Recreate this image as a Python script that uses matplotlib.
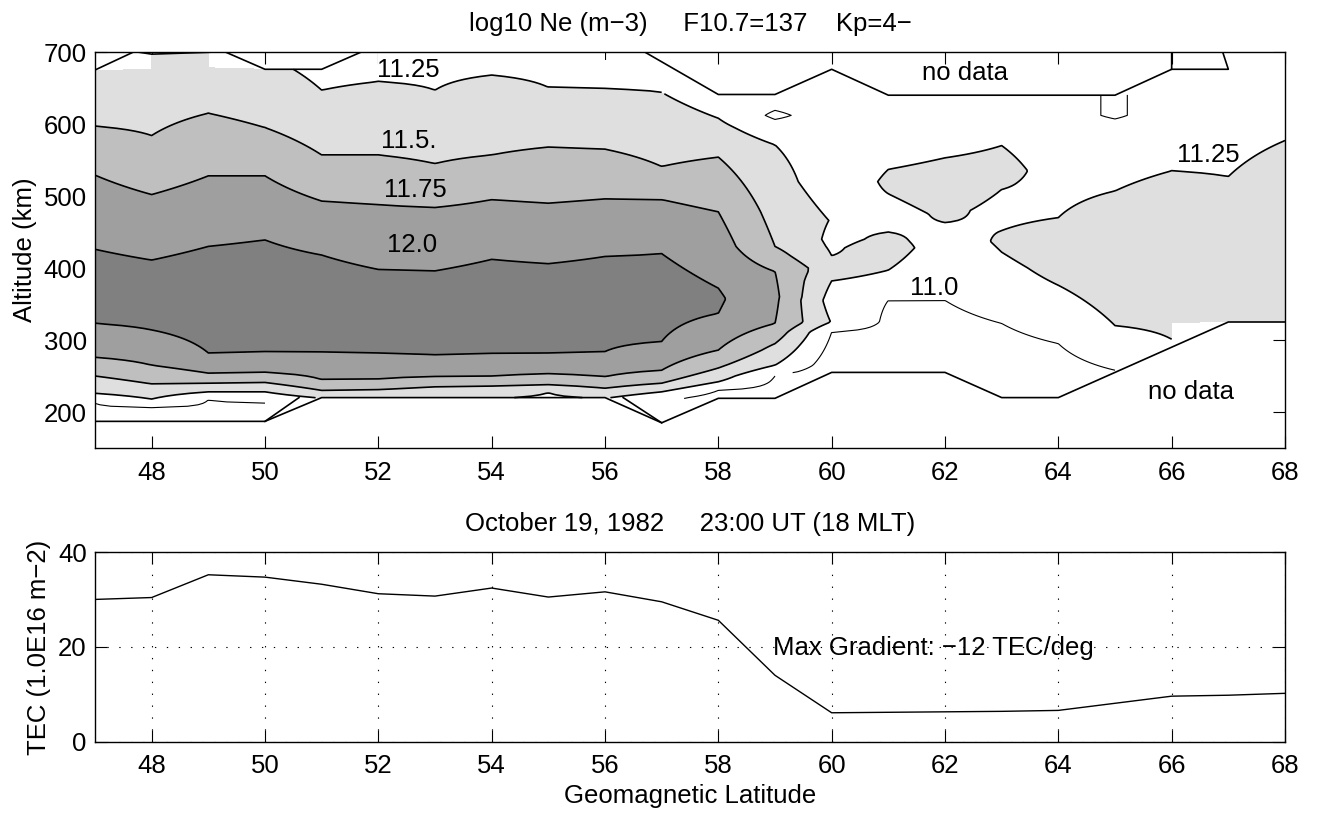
import numpy as np
import matplotlib
matplotlib.use("Agg")
import matplotlib.pyplot as plt

plt.rcParams['font.family'] = ['Liberation Sans', 'DejaVu Sans']
FS = 18.5

# ---------------- data: electron density profiles (log10 Ne) ----------------
lats = list(range(47, 69))
# valid data range per latitude (km); outside = no data
bottom_km = [187, 187, 187, 187, 220, 220, 220, 220, 220, 220, 185,
             219, 219, 255, 255, 255, 220, 220, 255, 290, 325, 325]
top_km = [675, 697, 700, 676, 676, 700, 700, 700, 700, 700, 686,
          641, 641, 676, 641, 641, 641, 641, 641, 676, 700, 700]

# (altitude km, log10 Ne) knots, one list per latitude
ne_47 = [(187, 10.90), (212, 11.00), (226, 11.25), (250, 11.50), (276, 11.75), (323, 12.00),
         (375, 12.12), (426, 12.00), (529, 11.75), (597, 11.50), (675, 11.32)]
ne_48 = [(187, 10.92), (206, 11.00), (218, 11.25), (239, 11.50), (265, 11.75), (314, 12.00),
         (365, 12.15), (411, 12.00), (502, 11.75), (584, 11.50), (697, 11.30)]
ne_49 = [(187, 10.92), (217, 11.00), (228, 11.25), (240, 11.50), (254, 11.75), (282, 12.00),
         (355, 12.18), (430, 12.00), (528, 11.75), (615, 11.50), (700, 11.32)]
ne_50 = [(187, 10.92), (213, 11.00), (228, 11.25), (241, 11.50), (255, 11.75), (284, 12.00),
         (360, 12.18), (439, 12.00), (528, 11.75), (595, 11.50), (676, 11.30)]
ne_51 = [(220, 11.27), (230, 11.50), (245, 11.75), (283, 12.00), (350, 12.15), (418, 12.00),
         (493, 11.75), (557, 11.50), (647, 11.25), (676, 11.20)]
ne_52 = [(220, 11.27), (231, 11.50), (246, 11.75), (282, 12.00), (340, 12.15), (398, 12.00),
         (488, 11.75), (557, 11.50), (659, 11.25), (700, 11.20)]
ne_53 = [(220, 11.26), (235, 11.50), (249, 11.75), (279, 12.00), (340, 12.15), (396, 12.00),
         (484, 11.75), (545, 11.50), (647, 11.25), (700, 11.20)]
ne_54 = [(220, 11.27), (236, 11.50), (250, 11.75), (281, 12.00), (345, 12.16), (412, 12.00),
         (495, 11.75), (557, 11.50), (668, 11.25), (700, 11.22)]
ne_55 = [(220, 11.22), (227, 11.25), (238, 11.50), (253, 11.75), (282, 12.00), (345, 12.16),
         (406, 12.00), (490, 11.75), (568, 11.50), (651, 11.25), (700, 11.20)]
ne_56 = [(220, 11.27), (233, 11.50), (249, 11.75), (284, 12.00), (350, 12.16), (416, 12.00),
         (496, 11.75), (565, 11.50), (649, 11.25), (700, 11.20)]
ne_57 = [(185, 11.05), (219, 11.06), (228, 11.25), (240, 11.50), (258, 11.75), (298, 12.00),
         (360, 12.12), (420, 12.00), (495, 11.75), (541, 11.50), (644, 11.25), (686, 11.20)]
ne_58 = [(219, 10.90), (230, 11.00), (242, 11.25), (261, 11.50), (286, 11.75), (337, 12.00),
         (357, 12.03), (372, 12.00), (478, 11.75), (554, 11.50), (608, 11.25), (641, 11.15)]
ne_59 = [(219, 10.90), (250, 11.00), (265, 11.25), (295, 11.50), (323, 11.75), (360, 11.80),
         (395, 11.75), (430, 11.50), (571, 11.25), (595, 11.10), (612, 10.95), (630, 11.08),
         (641, 11.10)]
ne_60 = [(255, 10.85), (311, 11.00), (325, 11.24), (355, 11.15), (382, 11.25), (400, 11.35),
         (417, 11.25), (440, 11.20), (466, 11.24), (520, 11.12), (600, 11.12), (676, 11.15)]
ne_61 = [(255, 10.85), (355, 11.00), (380, 11.18), (397, 11.25), (428, 11.33), (450, 11.25),
         (475, 11.18), (503, 11.25), (520, 11.28), (537, 11.25), (580, 11.15), (641, 11.12)]
ne_62 = [(255, 10.85), (355, 11.00), (400, 11.12), (437, 11.17), (463, 11.25), (505, 11.35),
         (553, 11.25), (600, 11.15), (641, 11.12)]
ne_63 = [(220, 10.80), (323, 11.00), (400, 11.18), (422, 11.25), (437, 11.27), (452, 11.25),
         (480, 11.20), (509, 11.25), (535, 11.30), (570, 11.25), (600, 11.15), (641, 11.12)]
ne_64 = [(220, 10.85), (295, 11.00), (376, 11.25), (420, 11.40), (470, 11.25), (520, 11.20),
         (600, 11.15), (641, 11.15)]
ne_65 = [(255, 10.98), (258, 11.00), (320, 11.25), (410, 11.45), (507, 11.25), (560, 11.18),
         (595, 11.12), (612, 10.95), (641, 10.95)]
ne_66 = [(290, 11.22), (301, 11.25), (420, 11.45), (535, 11.25), (600, 11.18), (676, 11.18)]
ne_67 = [(325, 11.30), (420, 11.45), (527, 11.25), (600, 11.18), (700, 11.15)]
ne_68 = [(325, 11.30), (440, 11.45), (577, 11.25), (640, 11.18), (700, 11.15)]

profiles = [ne_47, ne_48, ne_49, ne_50, ne_51, ne_52, ne_53, ne_54, ne_55, ne_56, ne_57,
            ne_58, ne_59, ne_60, ne_61, ne_62, ne_63, ne_64, ne_65, ne_66, ne_67, ne_68]

# outlines of the "no data" areas (lat, km)
nd_top_a_lat, nd_top_a_km = [47, 47.68], [675, 700]
nd_top_b_lat, nd_top_b_km = [47.75, 48, 49.15], [700, 697, 700]
nd_top_c_lat, nd_top_c_km = [49.3, 50, 51, 51.7], [700, 676, 676, 700]
nd_top_d_lat, nd_top_d_km = [56.7, 58, 59, 60, 61, 65, 66, 66], [700, 641, 641, 676, 640, 640, 676, 700]
nd_top_e_lat, nd_top_e_km = [66, 67, 66.9], [676, 676, 700]
nd_bot_lat = [47, 50, 51, 56, 57, 58, 59, 60, 62, 63, 64, 67, 68]
nd_bot_km = [187, 187, 220, 220, 185, 219, 219, 255, 255, 220, 220, 325, 325]
nd_wedge_a_lat, nd_wedge_a_km = [50, 50.6], [187, 220]
nd_wedge_b_lat, nd_wedge_b_km = [56.32, 57], [220, 185]

levels_fill = [0, 11.25, 11.5, 11.75, 12.0, 20]
fill_colors = ['white', '#dfdfdf', '#bfbfbf', '#9f9f9f', '#808080']
levels_line = [11.0, 11.25, 11.5, 11.75, 12.0]

# ---------------- data: TEC ----------------
tec_lat = list(range(47, 69))
tec = [30.0, 30.4, 35.2, 34.7, 33.2, 31.2, 30.7, 32.4, 30.5, 31.6, 29.5,
       25.6, 14.0, 6.1, 6.2, 6.3, 6.4, 6.6, 8.1, 9.6, 9.8, 10.2]

# ---------------- build grid ----------------
alts = np.arange(150, 701, 2.0)
Z = np.full((len(alts), len(lats)), np.nan)
for j, (prof, b, t) in enumerate(zip(profiles, bottom_km, top_km)):
    a = [p[0] for p in prof]
    v = [p[1] for p in prof]
    col = np.interp(alts, a, v)
    col[(alts < b) | (alts > t)] = np.nan
    Z[:, j] = col
Zm = np.ma.masked_invalid(Z)

W, H = 1318, 814
fig = plt.figure(figsize=(W / 100, H / 100), dpi=100)
ax1 = fig.add_axes([95 / W, 1 - 448 / H, 1190 / W, 396 / H])
ax2 = fig.add_axes([95 / W, 1 - 741.7 / H, 1190 / W, 189.7 / H])

# ---------------- top panel ----------------
ax1.set_axisbelow(True)
ax1.contourf(lats, alts, Zm, levels=levels_fill, colors=fill_colors, zorder=1)
ax1.contour(lats, alts, Zm, levels=levels_line, colors='k',
            linewidths=[0.8, 1.2, 1.2, 1.2, 1.2], zorder=2)
for lx, ly in [(nd_top_a_lat, nd_top_a_km), (nd_top_b_lat, nd_top_b_km),
               (nd_top_c_lat, nd_top_c_km), (nd_top_d_lat, nd_top_d_km),
               (nd_top_e_lat, nd_top_e_km), (nd_bot_lat, nd_bot_km),
               (nd_wedge_a_lat, nd_wedge_a_km), (nd_wedge_b_lat, nd_wedge_b_km)]:
    ax1.plot(lx, ly, color='k', lw=1.2, zorder=3)

lab_kw = dict(fontsize=FS, ha='center', va='baseline', zorder=4)
ax1.text(52.53, 665.5, '11.25', **lab_kw)
ax1.text(52.53, 566, '11.5.', **lab_kw)
ax1.text(52.66, 499, '11.75', **lab_kw)
ax1.text(52.59, 422.6, '12.0', **lab_kw)
ax1.text(61.81, 362.5, '11.0', **lab_kw)
ax1.text(66.65, 547.7, '11.25', **lab_kw)
ax1.text(62.35, 661, 'no data', **lab_kw)
ax1.text(66.35, 217.6, 'no data', **lab_kw)

ax1.set_xlim(47, 68)
ax1.set_ylim(150, 700)
ax1.set_xticks(range(48, 69, 2))
ax1.set_yticks(range(200, 701, 100))
ax1.tick_params(direction='in', length=8.4, width=0.8, top=True, right=True,
                labelsize=FS, pad=9)
ax1.tick_params(axis='y', pad=6)
for s in ax1.spines.values():
    s.set_linewidth(1.0)

# ---------------- bottom panel ----------------
ax2.plot(tec_lat, tec, color='k', lw=1.0, zorder=3)
ax2.set_xlim(47, 68)
ax2.set_ylim(0, 40)
ax2.set_xticks(range(48, 69, 2))
ax2.set_yticks([0, 20, 40])
ax2.grid(True, color='k', lw=0.8, linestyle=(0, (1.2, 9.5)))
ax2.tick_params(direction='in', length=8.4, width=0.8, top=True, right=True,
                labelsize=FS, pad=9)
ax2.tick_params(axis='y', pad=6)
for s in ax2.spines.values():
    s.set_linewidth(1.0)
ax2.text(58.97, 18.25, 'Max Gradient: \u221212 TEC/deg', fontsize=FS, ha='left', va='baseline')

# ---------------- titles / labels ----------------
fig.text(690 / W, 1 - 31 / H, 'log10 Ne (m\u22123)     F10.7=137    Kp=4\u2212',
         fontsize=FS, ha='center', va='baseline')
fig.text(690 / W, 1 - 531 / H, 'October 19, 1982     23:00 UT (18 MLT)',
         fontsize=FS, ha='center', va='baseline')
fig.text(690 / W, 1 - 803 / H, 'Geomagnetic Latitude', fontsize=FS, ha='center', va='baseline')
fig.text(25 / W, 1 - 250 / H, 'Altitude (km)', fontsize=FS, rotation=90, ha='center', va='center')
fig.text(39 / W, 1 - 647 / H, 'TEC (1.0E16 m\u22122)', fontsize=FS, rotation=90, ha='center', va='center')

fig.savefig('out.png', dpi=100)
